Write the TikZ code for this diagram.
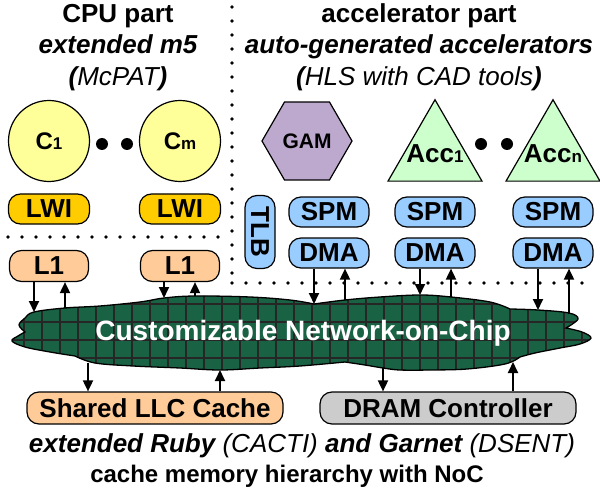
\documentclass[tikz,border=0pt]{standalone}
\usepackage{fontspec}
\setmainfont{Liberation Sans}
\usetikzlibrary{arrows.meta,shapes.geometric}

\definecolor{coreyellow}{RGB}{255,255,153}
\definecolor{lwigold}{RGB}{255,204,0}
\definecolor{cacheorange}{RGB}{255,204,153}
\definecolor{gampurple}{RGB}{189,168,206}
\definecolor{accgreen}{RGB}{204,255,204}
\definecolor{memblue}{RGB}{153,204,255}
\definecolor{dramgray}{RGB}{204,204,204}
\definecolor{nocgreen}{RGB}{26,98,68}

\newcommand{\idx}[1]{{\fontsize{17}{17}\selectfont #1}}

\tikzset{
    x=1pt,
    y=-1pt,
    >={Triangle[length=11pt,width=10pt]},
    txt/.style = {
        font=\fontsize{26}{30}\selectfont\bfseries,
        inner sep=0pt
    },
    block/.style = {
        txt,
        draw,
        shape=rectangle,
        rounded corners=12pt,
        minimum width=80pt,
        minimum height=30pt,
        line width=1.2pt
    },
    core/.style = {
        draw,
        shape=circle,
        minimum size=81pt,
        inner sep=0pt,
        fill=coreyellow,
        line width=1.2pt,
        font=\fontsize{24}{28}\selectfont\bfseries
    },
    gam/.style = {
        draw,
        regular polygon,
        regular polygon sides=6,
        minimum size=90pt,
        inner sep=0pt,
        fill=gampurple,
        line width=1.2pt
    },
    accel/.style = {
        draw,
        regular polygon,
        regular polygon sides=3,
        minimum size=108.5pt,
        inner sep=0pt,
        fill=accgreen,
        line width=1.2pt
    },
    bigdot/.style = {
        shape=circle,
        fill=black,
        minimum size=12pt,
        inner sep=0pt
    },
    link/.style = {line width=1.8pt},
    gridline/.style = {line width=1.6pt, color=black!85},
    divider/.style = {
        line width=3.6pt,
        line cap=round,
        dash pattern=on 0pt off 14pt
    },
}

\begin{document}
\begin{tikzpicture}
            \useasboundingbox (0,0) rectangle (600,492);

            % titles
            \node[txt, anchor=base] (cpu) at (118,23) {CPU part};
            \node[txt, anchor=base] (cpusim) at (118,54) {\itshape extended m5};
            \node[txt, anchor=base] (cpupow) at (118,86) {\itshape(\mdseries McPAT\bfseries)};
            \node[txt, anchor=base] (acc) at (419,23) {accelerator part};
            \node[txt, anchor=base] (accsim) at (419,54) {\itshape auto-generated accelerators};
            \node[txt, anchor=base] (accpow) at (419,86) {\itshape(\mdseries HLS with CAD tools\bfseries)};

            \path[draw, divider] (232,7) -- (232,283);
            \path[draw, divider] (8,237) -- (232,237);
            \path[draw, divider] (232,283) -- (596,283);

            % cores
            \node[core] (c1) at (49,141) {C\idx{1}};
            \node[core] (cm) at (180,141) {C\idx{m}};
            \node[bigdot] (cdot1) at (102,144) {};
            \node[bigdot] (cdot2) at (127,144) {};
            \node[block, fill=lwigold, minimum width=81pt] (lwi1) at (49,209) {LWI};
            \node[block, fill=lwigold, minimum width=81pt] (lwim) at (180,209) {LWI};
            \node[block, fill=cacheorange, minimum width=79pt, minimum height=31pt] (l1a) at (49,266) {L1};
            \node[block, fill=cacheorange, minimum width=79pt, minimum height=31pt] (l1b) at (180,266) {L1};

            % accelerators
            \node[gam, label={[txt, font=\fontsize{21}{24}\selectfont\bfseries]center:GAM}] (gam) at (307,141) {};
            \node[accel, label={[txt]center:Acc\idx{1}}] (acc1) at (435,154) {};
            \node[accel, label={[txt]center:Acc\idx{n}}] (accn) at (553,154) {};
            \node[bigdot] (adot1) at (481,144) {};
            \node[bigdot] (adot2) at (507,144) {};
            \node[block, fill=memblue, minimum width=73pt, rotate=-90] (tlb) at (260,232) {TLB};
            \node[block, fill=memblue] (spm0) at (329,212) {SPM};
            \node[block, fill=memblue] (dma0) at (329,253) {DMA};
            \node[block, fill=memblue] (spm1) at (435,212) {SPM};
            \node[block, fill=memblue] (dma1) at (435,253) {DMA};
            \node[block, fill=memblue] (spmn) at (553,212) {SPM};
            \node[block, fill=memblue] (dman) at (553,253) {DMA};

            % network
            \path[draw, fill=nocgreen, line width=1.3pt, path picture={
                \foreach \gx in {6,24,...,600} \path[draw, gridline] (\gx,280) -- (\gx,380);
                \foreach \gy in {286,304,...,376} \path[draw, gridline] (0,\gy) -- (600,\gy);
            }]
                (25,332) -- plot[smooth, tension=0.6] coordinates {(25,332) (19,325) (25,318) (34,312) (65,308) (100,306) (140,302) (164,298) (195,296) (250,297) (290,300) (314,304)}
                -- plot[smooth, tension=0.6] coordinates {(314,304) (345,300) (380,297) (420,295) (451,297) (490,302) (510,309)}
                -- plot[smooth, tension=0.6] coordinates {(510,309) (538,310) (569,313) (578,319) (566,328)}
                -- plot[smooth, tension=0.6] coordinates {(566,328) (582,332) (591,338) (580,344) (560,348) (535,353) (520,357)}
                -- plot[smooth, tension=0.6] coordinates {(520,357) (505,364) (467,369) (430,370) (400,370) (383,368) (365,365) (345,362)}
                -- plot[smooth, tension=0.6] coordinates {(345,362) (300,366) (260,368) (220,370) (180,368) (133,366) (95,363) (75,356)}
                -- plot[smooth, tension=0.6] coordinates {(75,356) (50,352) (25,347) (12,341) (18,336) (25,332)}
                -- cycle;
            \node[txt, text=white, font=\fontsize{28}{32}\selectfont\bfseries] (noc) at (303,333) {Customizable Network-on-Chip};

            \node[block, fill=cacheorange, minimum width=256pt, minimum height=32pt] (llc) at (155,408) {Shared LLC Cache};
            \node[block, fill=dramgray, minimum width=256pt, minimum height=32pt] (dram) at (448,408) {DRAM Controller};

            % ports on the network
            \coordinate (l1a-dn) at (34,312);
            \coordinate (l1a-up) at (65,308);
            \coordinate (l1b-dn) at (164,298);
            \coordinate (l1b-up) at (195,296);
            \coordinate (dma0-dn) at (314,304);
            \coordinate (dma0-up) at (345,300);
            \coordinate (dma1-dn) at (420,295);
            \coordinate (dma1-up) at (451,297);
            \coordinate (dman-dn) at (538,310);
            \coordinate (dman-up) at (569,314);
            \coordinate (llc-dn) at (88,363);
            \coordinate (llc-up) at (220,370);
            \coordinate (dram-dn) at (383,368);
            \coordinate (dram-up) at (513,362);

            \path[draw, link, ->] (l1a.south -| l1a-dn) -- (l1a-dn);
            \path[draw, link, ->] (l1a-up) -- (l1a.south -| l1a-up);
            \path[draw, link, ->] (l1b.south -| l1b-dn) -- (l1b-dn);
            \path[draw, link, ->] (l1b-up) -- (l1b.south -| l1b-up);
            \path[draw, link, ->] (dma0.south -| dma0-dn) -- (dma0-dn);
            \path[draw, link, ->] (dma0-up) -- (dma0.south -| dma0-up);
            \path[draw, link, ->] (dma1.south -| dma1-dn) -- (dma1-dn);
            \path[draw, link, ->] (dma1-up) -- (dma1.south -| dma1-up);
            \path[draw, link, ->] (dman.south -| dman-dn) -- (dman-dn);
            \path[draw, link, ->] (dman-up) -- (dman.south -| dman-up);
            \path[draw, link, ->] (llc-dn) -- (llc.north -| llc-dn);
            \path[draw, link, ->] (llc.north -| llc-up) -- (llc-up);
            \path[draw, link, ->] (dram-dn) -- (dram.north -| dram-dn);
            \path[draw, link, ->] (dram.north -| dram-up) -- (dram-up);

            \node[txt, anchor=base] (memsim) at (302,452) {\itshape extended Ruby {\mdseries(CACTI)} and Garnet {\mdseries(DSENT)}};
            \node[txt, anchor=base, font=\fontsize{24}{28}\selectfont\bfseries] (memdesc) at (287,482) {cache memory hierarchy with NoC};
\end{tikzpicture}
\end{document}
